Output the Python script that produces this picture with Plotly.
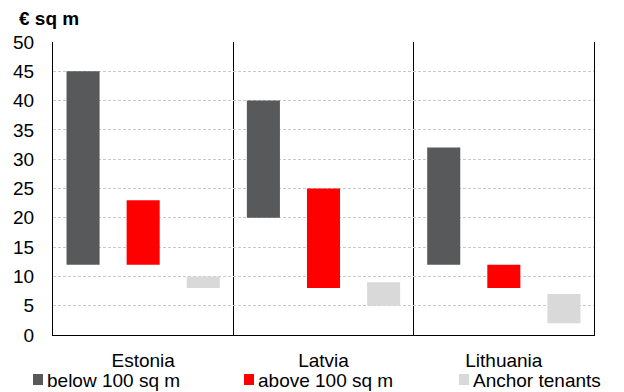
import plotly.graph_objects as go

countries = ["Estonia", "Latvia", "Lithuania"]
series_names = ["below 100 sq m", "above 100 sq m", "Anchor tenants"]
low_below = [12, 20, 12]
high_below = [45, 40, 32]
low_above = [12, 8, 8]
high_above = [23, 25, 12]
low_anchor = [8, 5, 2]
high_anchor = [10, 9, 7]
y_ticks = [0, 5, 10, 15, 20, 25, 30, 35, 40, 45, 50]

colors = ["#58595b", "#ff0000", "#d9d9d9"]
lows = [low_below, low_above, low_anchor]
highs = [high_below, high_above, high_anchor]

OFF = 8  # default page body margin
W, H = 616, 384
# target plot area in page pixels: x 53..594, y 42..335
ML = 53 - OFF
MT = 42 - OFF
MR = OFF + W - 594
MB = OFF + H - 335
PW, PH = W - ML - MR, H - MT - MB


def px(x):
    return (x - OFF - ML) / PW


def py(y):
    return (H - MB - (y - OFF)) / PH


fig = go.Figure()
for j, (name, lo, hi, c) in enumerate(zip(series_names, lows, highs, colors)):
    xs = [i * 3 + j + 0.5 for i in range(len(countries))]
    fig.add_trace(go.Bar(
        x=xs, y=[h - l for h, l in zip(hi, lo)], base=lo, width=0.55,
        name=name, marker=dict(color=c, line=dict(width=0)),
        hoverinfo="skip", showlegend=False,
    ))

font = "Liberation Sans, Arial, sans-serif"
shapes = []
annotations = [dict(text="<b>€ sq m</b>", xref="paper", yref="paper",
                    x=px(17), y=py(19), xanchor="left", yanchor="middle",
                    showarrow=False, font=dict(size=19))]
legend_x = [33, 244, 459]
for name, c, lx in zip(series_names, colors, legend_x):
    shapes.append(dict(type="rect", xref="paper", yref="paper",
                       x0=px(lx), x1=px(lx + 10), y0=py(385), y1=py(374),
                       fillcolor=c, line=dict(width=0), layer="above"))
    annotations.append(dict(text=name, xref="paper", yref="paper",
                            x=px(lx + 12), y=py(380), xanchor="left", yanchor="middle",
                            showarrow=False, font=dict(size=19)))

fig.update_layout(
    width=W, height=H,
    margin=dict(l=ML, r=MR, t=MT, b=MB, autoexpand=False),
    plot_bgcolor="white", paper_bgcolor="white",
    font=dict(family=font, size=19, color="#000000"),
    showlegend=False,
    barmode="overlay",
    xaxis=dict(
        range=[0, 9], tickmode="array",
        tickvals=[i * 3 + 1.5 for i in range(len(countries))], ticktext=countries,
        ticks="", showgrid=False, zeroline=False, automargin=False,
        showline=True, linecolor="#000000", linewidth=1,
        ticklabelstandoff=8,
        minor=dict(tickmode="linear", tick0=0, dtick=3, showgrid=True,
                   gridcolor="#000000", gridwidth=1, ticks=""),
    ),
    yaxis=dict(
        range=[0, 50], tickmode="array", tickvals=y_ticks,
        showgrid=True, gridcolor="#c8c8c8", gridwidth=1, griddash="3px,2px",
        zeroline=False, showline=True, mirror=True, linecolor="#000000", linewidth=1,
        ticks="", ticklabelstandoff=14, automargin=False,
    ),
    shapes=shapes,
    annotations=annotations,
)
fig.write_html("out.html")
